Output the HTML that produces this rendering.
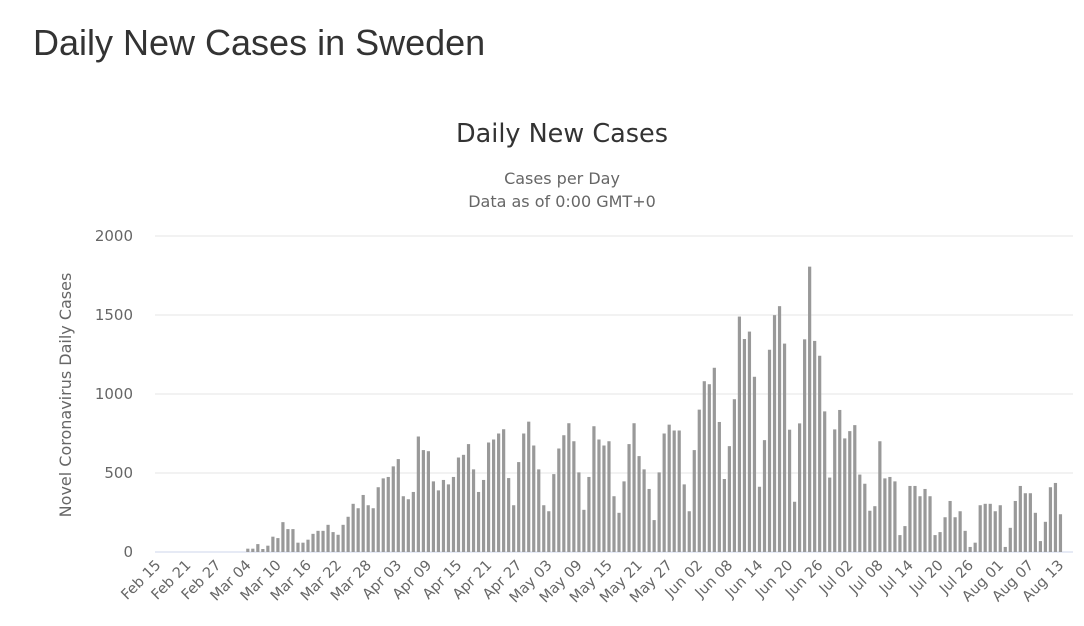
<!DOCTYPE html>
<html><head><meta charset="utf-8"><style>
body{margin:0;background:#fff;width:1084px;height:626px;overflow:hidden;font-family:"Liberation Sans",sans-serif}
h1{position:absolute;left:33px;top:22px;margin:0;font-weight:normal;font-size:36px;color:#333}
svg{position:absolute;left:0;top:0}
</style></head><body>
<h1>Daily New Cases in Sweden</h1>
<svg id="chart" width="1084" height="626" font-family="DejaVu Sans, Liberation Sans, sans-serif">
<text x="562" y="142" text-anchor="middle" font-size="25.5" fill="#333">Daily New Cases</text>
<text x="562" y="184" text-anchor="middle" font-size="16" fill="#666">Cases per Day</text>
<text x="562" y="207" text-anchor="middle" font-size="16" fill="#666">Data as of 0:00 GMT+0</text>
<text transform="translate(71,395) rotate(-90)" text-anchor="middle" font-size="16" fill="#666">Novel Coronavirus Daily Cases</text>
<g id="grid"></g><g id="bars"></g><g id="xl"></g>
</svg>
<script>
const startDate = [2020, 1, 15];
const numDays = 183;
const values = [0,0,0,0,0,0,0,0,0,0,0,0,0,0,0,0,0,0,
21,21,50,19,40,97,88,189,145,145,59,59,78,115,134,134,172,126,109,172,223,305,277,361,296,277,410,466,
475,542,588,353,334,380,731,645,638,447,390,456,428,475,598,615,683,523,380,456,693,712,750,777,468,296,569,750,825,674,
523,296,258,493,655,739,815,701,504,267,475,796,712,674,701,353,248,447,683,815,607,523,399,202,504,750,806,769,769,428,258,
645,901,1081,1062,1166,823,462,670,967,1490,1348,1395,1109,413,708,1280,1499,1556,1319,774,318,814,1346,1806,1336,1242,890,471,776,899,
719,765,803,490,432,261,290,701,466,475,447,107,164,418,418,353,399,353,107,126,220,323,220,258,134,32,59,
296,305,305,258,296,32,153,323,418,372,372,248,69,191,410,437,239,0,0];
const yTicks = [0,500,1000,1500,2000];
const months = ["Jan","Feb","Mar","Apr","May","Jun","Jul","Aug","Sep"];
const L=155,R=1073,Y0=552,Y1=236,YMAX=2000;
const y=v=>Y0-(v/YMAX)*(Y0-Y1);
const bw=(R-L)/numDays;
const xc=i=>L+(i+0.5)*bw;
const NS="http://www.w3.org/2000/svg";
const mk=(t,a,p)=>{const e=document.createElementNS(NS,t);for(const k in a)e.setAttribute(k,a[k]);p.appendChild(e);return e;};
const g=document.getElementById('grid');
yTicks.forEach(t=>{
 const ln=mk('line',{x1:L,x2:R,y1:y(t),y2:y(t),stroke:t===0?'#ccd6eb':'#e6e6e6','stroke-width':1},g);
 
 
 const tx=mk('text',{x:133,y:y(t)+5,'text-anchor':'end','font-size':15,fill:'#666'},g);
 tx.textContent=t;
 
 
});
const b=document.getElementById('bars');
values.forEach((v,i)=>{
 if(!v)return;
 const r=mk('rect',{x:xc(i)-1.6,y:y(v),width:3.2,height:Y0-y(v),fill:'#999'},b);
 
 
});
const xl=document.getElementById('xl');
const d0=new Date(startDate[0],startDate[1],startDate[2]);
for(let i=0;i<numDays;i+=6){
 const d=new Date(d0.getTime());d.setDate(d0.getDate()+i);
 const lab=months[d.getMonth()]+' '+String(d.getDate()).padStart(2,'0');
 const t=mk('text',{transform:`translate(${xc(i)+4},${Y0+14}) rotate(-45)`,'text-anchor':'end','font-size':14.5,fill:'#666'},xl);
 t.textContent=lab;
 
 
}
</script>
</body></html>
